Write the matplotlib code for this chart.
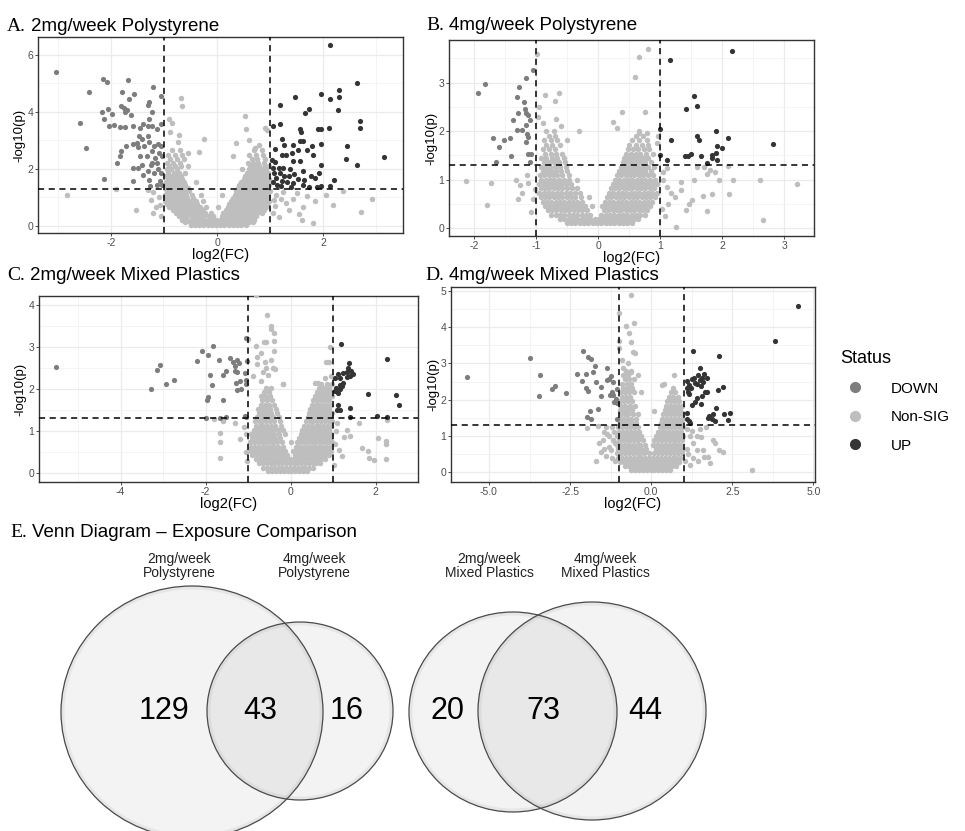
import numpy as np
import matplotlib
matplotlib.use("Agg")
import matplotlib.pyplot as plt
from matplotlib.lines import Line2D
from matplotlib.patches import Ellipse

plt.rcParams['font.family'] = ['Liberation Sans', 'DejaVu Sans']
plt.rcParams['axes.unicode_minus'] = False

# ---------------- data ----------------
STATUS = ["DOWN", "Non-SIG", "UP"]
STATUS_COLORS = {"DOWN": "#7d7d7d", "Non-SIG": "#bebebe", "UP": "#343434"}
FC_CUT = 1.0
P_CUT = 0.05

# A. 2mg/week Polystyrene
a_down = [(-3.04, 5.4), (-2.58, 3.6), (-2.48, 2.74), (-2.41, 4.7), (-2.16, 5.15), (-2.08, 5.04),
          (-2.17, 4.0), (-2.06, 4.09), (-2.14, 3.76), (-1.98, 3.92), (-2.04, 3.5), (-1.94, 3.53),
          (-2.14, 1.66), (-1.79, 4.7), (-1.69, 5.13), (-1.56, 4.62), (-1.66, 4.47), (-1.81, 4.21),
          (-1.76, 4.14), (-1.74, 4.0), (-1.7, 4.08), (-1.62, 3.88), (-1.59, 3.51), (-1.73, 3.48),
          (-1.83, 3.48), (-1.84, 2.45), (-1.88, 2.21), (-1.81, 2.62), (-1.72, 2.8), (-1.59, 2.86),
          (-1.51, 2.92), (-1.47, 3.15), (-1.45, 3.45), (-1.39, 3.56), (-1.31, 3.51), (-1.29, 3.74),
          (-1.31, 4.24), (-1.29, 4.35), (-1.21, 4.89), (-1.22, 4.0), (-1.05, 4.56), (-1.06, 3.56),
          (-1.14, 3.39), (-1.23, 3.51), (-1.31, 3.15), (-1.42, 3.04), (-1.5, 2.76), (-1.45, 2.45),
          (-1.41, 2.15), (-1.33, 2.45), (-1.23, 2.62), (-1.19, 2.8), (-1.12, 2.86), (-1.06, 2.8),
          (-1.09, 2.56), (-1.18, 2.39), (-1.25, 2.15), (-1.31, 1.92), (-1.39, 1.8), (-1.59, 1.56),
          (-1.29, 1.62), (-1.19, 1.86), (-1.11, 1.98), (-1.08, 1.56), (-1.05, 1.86), (-1.03, 1.45),
          (-1.14, 1.45), (-1.26, 1.41), (-1.22, 2.21), (-1.13, 2.21), (-1.04, 2.45), (-1.5, 2.04),
          (-1.59, 2.04), (-1.38, 2.8), (-1.28, 2.94)]
a_up = [(2.13, 6.35), (2.64, 5.0), (2.3, 4.78), (2.3, 4.51), (1.97, 4.62), (2.14, 4.45), (1.47, 4.53),
        (1.18, 4.25), (1.74, 4.09), (1.66, 3.95), (2.28, 4.06), (2.69, 3.68), (2.69, 3.45), (2.11, 3.45),
        (1.96, 3.41), (1.91, 3.39), (1.56, 3.41), (1.59, 3.29), (1.05, 3.51), (1.18, 3.56), (1.22, 3.06),
        (1.26, 2.84), (1.44, 2.84), (1.56, 2.98), (1.63, 2.98), (1.8, 2.82), (1.97, 2.89), (2.46, 2.8),
        (3.16, 2.42), (2.44, 2.33), (2.64, 2.13), (1.97, 2.12), (1.81, 2.48), (1.69, 2.66), (1.52, 2.68),
        (1.41, 2.56), (1.31, 2.48), (1.22, 2.48), (1.09, 2.71), (1.03, 2.31), (1.09, 2.25), (1.05, 2.04),
        (1.16, 2.04), (1.25, 2.04), (1.38, 1.98), (1.44, 2.27), (1.56, 2.27), (1.63, 1.94), (1.46, 1.82),
        (1.36, 1.74), (1.26, 1.74), (1.18, 1.86), (1.07, 1.86), (1.11, 1.68), (1.22, 1.56), (1.32, 1.53),
        (1.44, 1.51), (1.53, 1.65), (1.64, 1.62), (1.78, 1.74), (1.93, 1.84), (2.21, 1.62), (2.13, 1.41),
        (1.97, 1.39), (1.89, 1.36), (1.74, 1.35), (1.63, 1.45), (1.13, 1.45), (1.06, 1.53), (1.21, 1.39),
        (1.39, 1.36), (1.84, 1.68)]
a_ns_rows = [
    (0.03, [-0.5, -0.42, -0.34, -0.26, -0.18, -0.1, -0.02, 0.06, 0.14, 0.22, 0.3, 0.38, 0.46, 0.54]),
    (0.12, [-0.6, -0.52, -0.44, -0.36, -0.28, -0.2, -0.12, -0.04, 0.04, 0.12, 0.2, 0.28, 0.36, 0.44, 0.52, 0.6, 0.68]),
    (0.22, [-0.66, -0.58, -0.5, -0.42, -0.34, -0.26, -0.18, -0.1, -0.02, 0.06, 0.14, 0.22, 0.3, 0.38, 0.46, 0.54,
            0.62, 0.7]),
    (0.33, [-0.72, -0.64, -0.56, -0.48, -0.4, -0.32, -0.24, -0.16, -0.08, 0.1, 0.18, 0.26, 0.34, 0.42, 0.5, 0.58,
            0.66, 0.74]),
    (0.44, [-0.78, -0.7, -0.62, -0.54, -0.46, -0.38, -0.3, -0.22, -0.12, 0.12, 0.2, 0.28, 0.36, 0.44, 0.52, 0.6,
            0.68, 0.76, 0.84]),
    (0.55, [-0.84, -0.76, -0.68, -0.6, -0.52, -0.44, -0.36, -0.27, 0.16, 0.24, 0.32, 0.4, 0.48, 0.56, 0.64, 0.72,
            0.8, 0.88]),
    (0.66, [-0.9, -0.82, -0.74, -0.66, -0.58, -0.5, -0.42, -0.33, -0.2, 0.02, 0.2, 0.28, 0.36, 0.44, 0.52, 0.6,
            0.68, 0.76, 0.84, 0.92]),
    (0.77, [-0.95, -0.87, -0.79, -0.71, -0.63, -0.55, -0.47, -0.38, 0.23, 0.31, 0.39, 0.47, 0.55, 0.63, 0.71,
            0.79, 0.87, 0.95]),
    (0.88, [-0.98, -0.9, -0.82, -0.74, -0.66, -0.58, -0.5, -0.4, -0.26, 0.26, 0.34, 0.42, 0.5, 0.58, 0.66, 0.74,
            0.82, 0.9, 0.98]),
    (0.99, [-0.96, -0.88, -0.8, -0.72, -0.64, -0.56, -0.46, 0.3, 0.38, 0.46, 0.54, 0.62, 0.7, 0.78, 0.86, 0.94]),
    (1.1, [-0.98, -0.9, -0.82, -0.74, -0.66, -0.58, -0.48, -0.3, 0.1, 0.33, 0.41, 0.49, 0.57, 0.65, 0.73, 0.81,
           0.89, 0.97]),
    (1.21, [-0.95, -0.87, -0.79, -0.71, -0.63, -0.53, 0.36, 0.44, 0.52, 0.6, 0.68, 0.76, 0.84, 0.92, 1.0]),
    (1.32, [-0.97, -0.89, -0.81, -0.73, -0.65, -0.55, 0.39, 0.47, 0.55, 0.63, 0.71, 0.79, 0.87, 0.95]),
    (1.43, [-0.94, -0.86, -0.78, -0.7, -0.6, 0.42, 0.5, 0.58, 0.66, 0.74, 0.82, 0.9, 0.98]),
    (1.54, [-0.97, -0.89, -0.81, -0.72, -0.62, -0.4, 0.46, 0.54, 0.62, 0.7, 0.78, 0.86, 0.94]),
    (1.65, [-0.93, -0.85, -0.76, -0.66, 0.5, 0.58, 0.66, 0.74, 0.82, 0.9, 0.98]),
    (1.76, [-0.96, -0.87, -0.78, -0.68, 0.53, 0.61, 0.69, 0.77, 0.85, 0.93]),
    (1.87, [-0.92, -0.82, -0.72, -0.6, 0.56, 0.64, 0.72, 0.8, 0.88, 0.96]),
    (1.98, [-0.95, -0.86, -0.75, 0.48, 0.6, 0.68, 0.76, 0.84, 0.92]),
    (2.1, [-0.9, -0.8, -0.68, -0.55, 0.62, 0.7, 0.8, 0.9, 0.98]),
    (2.22, [-0.94, -0.83, -0.7, 0.58, 0.68, 0.78, 0.88]),
    (2.35, [-0.88, -0.76, -0.62, 0.66, 0.76, 0.9]),
    (2.5, [-0.92, -0.8, -0.66, 0.6, 0.74, 0.86]),
    (2.65, [-0.85, -0.7, 0.7, 0.84]),
]
a_ns_extra = [(-0.69, 4.5), (-0.66, 4.2), (-0.9, 3.76), (-0.85, 3.6), (-0.88, 3.3), (-0.72, 3.2), (-0.74, 2.95),
              (-0.25, 3.06), (0.53, 3.84), (0.91, 3.45), (0.95, 3.35), (0.55, 3.4), (0.6, 3.0), (0.8, 2.85),
              (0.72, 2.72), (0.36, 2.9), (-0.35, 2.6), (-0.55, 2.55), (0.3, 2.45), (-1.53, 0.54), (-1.91, 1.29),
              (-2.84, 1.09), (-1.25, 0.9), (-1.15, 0.65), (-1.1, 1.0), (-1.2, 1.2), (2.38, 1.21), (2.93, 0.94),
              (2.72, 0.47), (2.19, 0.74), (1.84, 0.86), (1.63, 0.68), (1.61, 0.21), (1.81, 0.09), (2.06, 1.09),
              (1.44, 0.94), (1.31, 0.8), (1.2, 0.95), (1.12, 1.1), (1.25, 1.2), (1.5, 1.15), (1.7, 1.05),
              (1.1, 0.7), (1.35, 0.55), (1.55, 0.4), (-1.3, 1.25), (-1.2, 0.45), (1.05, 0.45), (1.08, 0.9),
              (1.16, 0.3), (-1.05, 0.35), (-1.08, 0.75)]

# B. 4mg/week Polystyrene
b_down = [(-1.95, 2.79), (-1.83, 2.97), (-1.7, 1.87), (-1.61, 1.68), (-1.65, 1.36), (-1.53, 1.81), (-1.42, 1.85),
          (-1.41, 1.48), (-1.37, 2.24), (-1.32, 2.7), (-1.28, 2.92), (-1.29, 2.37), (-1.32, 2.02), (-1.24, 2.02),
          (-1.2, 2.6), (-1.17, 3.09), (-1.18, 2.45), (-1.16, 2.37), (-1.13, 2.33), (-1.17, 2.12), (-1.15, 1.95),
          (-1.17, 1.78), (-1.13, 1.89), (-1.14, 1.53), (-1.08, 1.53), (-1.1, 1.37), (-1.1, 2.23), (-1.05, 3.27)]
b_up = [(2.15, 3.66), (1.15, 3.47), (1.54, 2.73), (1.42, 2.46), (1.6, 2.52), (1.0, 2.04), (1.17, 1.82), (1.6, 1.91),
        (1.63, 1.81), (1.9, 2.0), (2.09, 1.87), (1.92, 1.7), (1.99, 1.65), (2.82, 1.74), (1.0, 1.51), (1.1, 1.41),
        (1.4, 1.48), (1.45, 1.48), (1.49, 1.53), (1.65, 1.49), (1.83, 1.51), (1.84, 1.44), (1.9, 1.56),
        (1.91, 1.41), (1.75, 1.34)]
b_ns_rows = [
    (0.1, [-0.5, -0.44, -0.37, -0.3, -0.23, -0.16, -0.09, -0.02, 0.05, 0.12, 0.19, 0.26, 0.33, 0.4, 0.47, 0.54]),
    (0.19, [-0.62, -0.55, -0.48, -0.41, -0.34, -0.27, -0.2, -0.13, -0.06, 0.01, 0.08, 0.15, 0.22, 0.29, 0.36,
            0.43, 0.5, 0.57, 0.64]),
    (0.28, [-0.76, -0.69, -0.62, -0.55, -0.48, -0.41, -0.34, -0.27, -0.2, -0.13, 0.05, 0.12, 0.19, 0.26, 0.33,
            0.4, 0.47, 0.54, 0.61, 0.68, 0.75]),
    (0.37, [-0.82, -0.75, -0.68, -0.61, -0.54, -0.47, -0.4, -0.33, -0.26, -0.18, 0.09, 0.16, 0.23, 0.3, 0.37,
            0.44, 0.51, 0.58, 0.65, 0.72, 0.79]),
    (0.46, [-0.86, -0.79, -0.72, -0.65, -0.58, -0.51, -0.44, -0.37, -0.3, -0.22, -0.1, 0.06, 0.13, 0.2, 0.27,
            0.34, 0.41, 0.48, 0.55, 0.62, 0.69, 0.76, 0.83]),
    (0.55, [-0.9, -0.83, -0.76, -0.69, -0.62, -0.55, -0.48, -0.41, -0.34, -0.26, 0.1, 0.17, 0.24, 0.31, 0.38,
            0.45, 0.52, 0.59, 0.66, 0.73, 0.8, 0.87]),
    (0.64, [-0.93, -0.86, -0.79, -0.72, -0.65, -0.58, -0.51, -0.44, -0.37, -0.28, -0.15, 0.14, 0.21, 0.28, 0.35,
            0.42, 0.49, 0.56, 0.63, 0.7, 0.77, 0.84, 0.91]),
    (0.73, [-0.95, -0.88, -0.81, -0.74, -0.67, -0.6, -0.53, -0.46, -0.38, -0.3, 0.17, 0.24, 0.31, 0.38, 0.45,
            0.52, 0.59, 0.66, 0.73, 0.8, 0.87, 0.94]),
    (0.82, [-0.93, -0.86, -0.79, -0.72, -0.65, -0.58, -0.51, -0.43, -0.34, 0.2, 0.27, 0.34, 0.41, 0.48, 0.55,
            0.62, 0.69, 0.76, 0.83, 0.9]),
    (0.91, [-0.95, -0.88, -0.81, -0.74, -0.67, -0.6, -0.52, -0.44, 0.23, 0.3, 0.37, 0.44, 0.51, 0.58, 0.65,
            0.72, 0.79, 0.86, 0.94]),
    (1.0, [-0.92, -0.85, -0.78, -0.71, -0.64, -0.56, -0.47, -0.35, 0.27, 0.34, 0.41, 0.48, 0.55, 0.62, 0.69,
           0.76, 0.84, 0.92]),
    (1.09, [-0.94, -0.87, -0.8, -0.73, -0.66, -0.58, -0.48, 0.3, 0.37, 0.44, 0.51, 0.58, 0.65, 0.72, 0.8, 0.88]),
    (1.18, [-0.9, -0.83, -0.76, -0.69, -0.6, -0.5, 0.33, 0.4, 0.47, 0.54, 0.61, 0.68, 0.76, 0.85]),
    (1.27, [-0.93, -0.86, -0.78, -0.7, -0.62, -0.52, 0.36, 0.43, 0.5, 0.57, 0.64, 0.72, 0.8, 0.9]),
    (1.36, [-0.88, -0.8, -0.72, -0.63, -0.54, 0.39, 0.46, 0.53, 0.6, 0.68, 0.76, 0.85]),
    (1.45, [-0.92, -0.84, -0.75, -0.66, -0.56, 0.42, 0.49, 0.56, 0.64, 0.72, 0.8]),
    (1.54, [-0.86, -0.77, -0.68, -0.58, 0.45, 0.52, 0.6, 0.68, 0.77, 0.88]),
    (1.63, [-0.9, -0.8, -0.7, 0.48, 0.56, 0.64, 0.73, 0.82]),
    (1.72, [-0.84, -0.74, -0.62, 0.5, 0.6, 0.7, 0.8]),
    (1.81, [-0.88, -0.77, -0.66, -0.5, 0.55, 0.66, 0.78]),
    (1.9, [-0.8, -0.7, 0.6, 0.72]),
    (2.0, [-0.85, -0.72, -0.32, 0.66]),
]
b_ns_extra = [(-0.99, 3.6), (0.8, 3.69), (0.65, 3.53), (0.59, 3.12), (0.38, 2.4), (0.75, 2.4), (0.24, 2.2),
              (0.3, 2.06), (-0.86, 2.75), (-0.63, 2.79), (-0.7, 2.62), (-0.68, 2.26), (-0.95, 2.5), (-0.89, 2.16),
              (-0.98, 2.3), (-0.6, 2.1), (0.65, 1.96), (0.78, 1.96), (0.94, 1.75), (0.97, 1.9), (-2.13, 0.97),
              (-1.8, 0.47), (-1.73, 0.93), (-1.33, 1.0), (-1.26, 0.89), (-1.24, 0.73), (-1.13, 0.93), (-1.09, 0.34),
              (-1.05, 0.6), (-1.02, 0.8), (-1.15, 1.1), (-1.3, 0.6), (3.2, 0.91), (2.65, 0.16), (2.61, 1.0),
              (2.18, 1.0), (2.11, 0.7), (1.94, 0.99), (1.88, 1.15), (1.75, 1.11), (1.75, 0.36), (1.83, 0.71),
              (1.69, 0.67), (1.51, 0.58), (1.41, 0.38), (1.47, 0.5), (1.54, 1.0), (1.33, 0.96), (1.34, 0.79),
              (1.24, 0.65), (1.26, 0.03), (1.17, 0.73), (1.1, 0.86), (2.1, 1.29), (1.59, 1.27), (1.05, 1.15),
              (1.1, 1.25), (1.02, 0.4), (1.08, 0.25), (1.12, 0.5), (1.7, 1.27), (1.8, 1.2), (1.04, 1.0)]

# C. 2mg/week Mixed Plastics
c_down = [(-5.52, 2.53), (-3.29, 1.99), (-3.15, 2.46), (-3.07, 2.58), (-2.92, 2.13), (-2.75, 2.22), (-2.2, 2.67),
          (-2.09, 2.91), (-1.82, 3.03), (-1.94, 2.81), (-1.9, 2.33), (-1.85, 2.09), (-1.96, 1.75), (-1.94, 1.81),
          (-1.6, 1.74), (-1.68, 2.7), (-1.6, 2.33), (-1.43, 2.74), (-1.35, 2.63), (-1.27, 2.69), (-1.31, 2.55),
          (-1.21, 2.61), (-1.51, 2.43), (-1.31, 2.43), (-1.25, 2.41), (-1.19, 2.19), (-1.05, 2.21), (-1.04, 2.11),
          (-1.05, 3.21), (-1.02, 2.67), (-1.07, 2.37), (-1.25, 1.97), (-1.17, 2.01), (-1.29, 2.15), (-1.52, 1.33),
          (-1.66, 1.31), (-1.99, 1.31), (-1.07, 1.35), (-1.04, 1.33)]
c_up = [(1.18, 3.08), (2.28, 2.71), (1.38, 2.61), (1.11, 2.35), (1.04, 2.27), (1.16, 2.26), (1.24, 2.37),
        (1.32, 2.41), (1.36, 2.49), (1.42, 2.43), (1.46, 2.35), (1.4, 2.31), (1.32, 2.29), (1.24, 2.15),
        (1.16, 2.09), (1.08, 2.03), (1.16, 1.99), (1.04, 1.95), (1.22, 2.07), (1.12, 1.91), (1.83, 1.89),
        (2.49, 1.86), (2.56, 1.63), (1.12, 1.62), (1.4, 1.54), (1.1, 1.5), (1.16, 1.49), (1.4, 1.33),
        (2.04, 1.35), (2.28, 1.33)]
c_ns_rows = [
    (0.04, [-0.52, -0.43, -0.34, -0.25, -0.16, -0.07, 0.02, 0.11, 0.2, 0.29, 0.38]),
    (0.13, [-0.64, -0.55, -0.46, -0.37, -0.28, -0.19, -0.1, -0.01, 0.08, 0.17, 0.26, 0.35, 0.44, 0.53]),
    (0.23, [-0.74, -0.65, -0.56, -0.47, -0.38, -0.29, -0.2, -0.11, -0.02, 0.07, 0.16, 0.25, 0.34, 0.43, 0.52,
            0.61, 0.7]),
    (0.33, [-0.82, -0.73, -0.64, -0.55, -0.46, -0.37, -0.28, -0.19, -0.1, -0.01, 0.08, 0.17, 0.26, 0.35, 0.44,
            0.53, 0.62, 0.71, 0.8]),
    (0.43, [-0.9, -0.81, -0.72, -0.63, -0.54, -0.45, -0.36, -0.27, -0.18, -0.09, 0.1, 0.19, 0.28, 0.37, 0.46,
            0.55, 0.64, 0.73, 0.82, 0.9]),
    (0.53, [-0.95, -0.86, -0.77, -0.68, -0.59, -0.5, -0.41, -0.32, -0.23, -0.12, 0.05, 0.15, 0.24, 0.33, 0.42,
            0.51, 0.6, 0.69, 0.78, 0.87, 0.95]),
    (0.63, [-0.92, -0.83, -0.74, -0.65, -0.56, -0.47, -0.38, -0.29, -0.18, 0.12, 0.21, 0.3, 0.39, 0.48, 0.57,
            0.66, 0.75, 0.84, 0.93]),
    (0.73, [-0.95, -0.86, -0.77, -0.68, -0.59, -0.5, -0.41, -0.32, -0.2, 0.0, 0.16, 0.25, 0.34, 0.43, 0.52,
            0.61, 0.7, 0.79, 0.88, 0.97]),
    (0.83, [-0.9, -0.81, -0.72, -0.63, -0.54, -0.45, -0.36, -0.25, 0.2, 0.29, 0.38, 0.47, 0.56, 0.65, 0.74,
            0.83, 0.92]),
    (0.93, [-0.92, -0.83, -0.74, -0.65, -0.56, -0.47, -0.38, -0.27, -0.12, 0.24, 0.33, 0.42, 0.51, 0.6, 0.69,
            0.78, 0.87, 0.96]),
    (1.03, [-0.86, -0.77, -0.68, -0.59, -0.5, -0.41, -0.3, -0.18, 0.28, 0.37, 0.46, 0.55, 0.64, 0.73, 0.82,
            0.91]),
    (1.13, [-0.82, -0.73, -0.64, -0.55, -0.46, -0.36, -0.22, 0.32, 0.41, 0.5, 0.59, 0.68, 0.77, 0.86, 0.95]),
    (1.23, [-0.84, -0.75, -0.66, -0.57, -0.48, -0.38, -0.25, 0.36, 0.45, 0.54, 0.63, 0.72, 0.81, 0.9, 0.98]),
    (1.33, [-0.78, -0.69, -0.6, -0.51, -0.41, -0.28, 0.4, 0.49, 0.58, 0.67, 0.76, 0.85, 0.94]),
    (1.43, [-0.74, -0.65, -0.56, -0.46, -0.32, 0.43, 0.52, 0.61, 0.7, 0.79, 0.88, 0.97]),
    (1.53, [-0.76, -0.67, -0.58, -0.48, -0.35, 0.46, 0.55, 0.64, 0.73, 0.82, 0.91]),
    (1.63, [-0.7, -0.61, -0.51, -0.38, 0.5, 0.59, 0.68, 0.77, 0.86, 0.95]),
    (1.73, [-0.66, -0.56, -0.44, 0.53, 0.62, 0.71, 0.8, 0.9]),
    (1.83, [-0.7, -0.6, -0.48, 0.57, 0.67, 0.77, 0.88, 0.97]),
    (1.93, [-0.62, -0.5, 0.62, 0.72, 0.84, 0.94]),
    (2.03, [-0.58, -0.45, 0.66, 0.78, 0.9]),
    (2.13, [-0.17, 0.72, 0.86, 0.97]),
]
c_ns_extra = [(-0.82, 4.24), (-0.56, 3.76), (-0.45, 3.5), (-0.47, 3.42), (-0.39, 3.32), (-1.0, 3.19), (-0.62, 3.11),
              (-0.57, 3.11), (-0.39, 3.13), (-0.82, 3.02), (-0.39, 2.91), (-0.69, 2.85), (-0.8, 2.77), (-0.6, 2.65),
              (-0.45, 2.68), (-0.8, 2.6), (-0.57, 2.5), (-0.42, 2.51), (-0.36, 2.47), (-0.65, 2.4), (-0.52, 2.33),
              (-0.88, 2.31), (-0.7, 2.2), (-0.17, 2.11), (0.93, 2.99), (0.83, 2.63), (0.91, 2.63), (0.57, 2.15),
              (0.65, 2.15), (0.8, 2.25), (0.95, 2.3), (-1.66, 0.96), (-1.65, 0.73), (-1.66, 0.36), (-1.04, 0.92),
              (-1.1, 1.1), (-1.2, 0.8), (-1.05, 0.5), (-1.02, 0.3), (-1.3, 1.2), (-1.6, 1.25), (-1.8, 1.29),
              (1.69, 0.6), (1.83, 0.52), (1.85, 0.37), (1.96, 0.32), (2.05, 0.84), (2.24, 0.76), (2.24, 0.69),
              (2.24, 0.34), (1.2, 0.4), (1.32, 1.02), (1.4, 0.88), (1.25, 0.85), (2.26, 1.27), (1.1, 1.2),
              (1.05, 0.7), (1.15, 0.55), (1.02, 0.2), (1.08, 1.0), (1.6, 1.2)]

# D. 4mg/week Mixed Plastics
d_down = [(-5.69, 2.64), (-3.73, 3.16), (-3.43, 2.68), (-3.45, 2.09), (-3.07, 2.3), (-2.95, 2.39), (-2.64, 2.18),
          (-2.3, 2.7), (-2.09, 3.35), (-2.02, 2.7), (-2.12, 2.52), (-2.02, 2.33), (-1.94, 2.24), (-1.99, 1.53),
          (-1.89, 1.69), (-1.84, 1.46), (-1.94, 3.19), (-1.84, 3.13), (-1.79, 2.76), (-1.71, 2.48), (-1.64, 1.75),
          (-1.72, 2.92), (-1.56, 2.36), (-1.55, 2.11), (-1.37, 2.87), (-1.35, 2.55), (-1.29, 2.57), (-1.23, 2.66),
          (-1.17, 2.5), (-1.22, 2.21), (-1.27, 2.13), (-1.17, 2.13), (-1.06, 2.3), (-1.14, 1.95), (-1.08, 2.02),
          (-1.04, 1.9), (-1.06, 1.47)]
d_up = [(4.52, 4.59), (3.83, 3.62), (1.3, 3.35), (2.1, 3.22), (1.1, 2.52), (1.16, 2.41), (1.1, 2.32), (1.12, 2.22),
        (1.22, 2.32), (1.17, 2.15), (1.25, 2.57), (1.32, 2.61), (1.35, 2.45), (1.42, 2.43), (1.49, 2.54),
        (1.45, 2.68), (1.51, 2.87), (1.54, 2.37), (1.58, 2.59), (1.6, 2.5), (1.63, 2.7), (1.71, 2.59),
        (1.66, 2.22), (1.58, 2.09), (1.41, 2.04), (1.34, 1.95), (1.25, 1.86), (1.54, 1.88), (1.71, 2.22),
        (2.05, 2.27), (2.21, 2.34), (1.1, 1.63), (1.1, 1.46), (1.16, 1.4), (1.21, 1.35), (1.76, 1.49),
        (1.79, 1.55), (1.87, 1.47), (1.92, 1.6), (1.97, 1.4), (2.0, 1.78), (2.23, 1.61), (2.43, 1.63),
        (2.38, 1.45)]
d_ns_rows = [
    (0.05, [-0.62, -0.5, -0.38, -0.26, -0.14, -0.02, 0.1, 0.22, 0.34, 0.46, 0.58]),
    (0.16, [-0.8, -0.68, -0.56, -0.44, -0.32, -0.2, -0.08, 0.04, 0.16, 0.28, 0.4, 0.52, 0.64, 0.76]),
    (0.28, [-0.95, -0.83, -0.71, -0.59, -0.47, -0.35, -0.23, -0.11, 0.01, 0.13, 0.25, 0.37, 0.49, 0.61, 0.73,
            0.85]),
    (0.4, [-1.02, -0.9, -0.78, -0.66, -0.54, -0.42, -0.3, -0.18, -0.06, 0.06, 0.18, 0.3, 0.42, 0.54, 0.66, 0.78,
           0.9]),
    (0.52, [-1.05, -0.93, -0.81, -0.69, -0.57, -0.45, -0.33, -0.21, -0.08, 0.1, 0.22, 0.34, 0.46, 0.58, 0.7,
            0.82, 0.94]),
    (0.64, [-1.02, -0.9, -0.78, -0.66, -0.54, -0.42, -0.3, -0.17, 0.14, 0.26, 0.38, 0.5, 0.62, 0.74, 0.86, 0.98]),
    (0.76, [-1.05, -0.93, -0.81, -0.69, -0.57, -0.45, -0.33, -0.2, 0.05, 0.18, 0.3, 0.42, 0.54, 0.66, 0.78, 0.9]),
    (0.88, [-1.0, -0.88, -0.76, -0.64, -0.52, -0.4, -0.26, 0.1, 0.22, 0.34, 0.46, 0.58, 0.7, 0.82, 0.94]),
    (1.0, [-1.04, -0.92, -0.8, -0.68, -0.56, -0.44, -0.3, 0.14, 0.26, 0.38, 0.5, 0.62, 0.74, 0.86, 0.98]),
    (1.12, [-0.98, -0.86, -0.74, -0.62, -0.5, -0.36, 0.2, 0.32, 0.44, 0.56, 0.68, 0.8, 0.92]),
    (1.24, [-1.02, -0.9, -0.78, -0.66, -0.54, -0.4, 0.26, 0.38, 0.5, 0.62, 0.74, 0.86, 0.98]),
    (1.36, [-0.96, -0.84, -0.72, -0.6, -0.46, 0.3, 0.42, 0.54, 0.66, 0.78, 0.9]),
    (1.48, [-0.98, -0.86, -0.74, -0.62, -0.48, 0.34, 0.46, 0.58, 0.7, 0.82, 0.94]),
    (1.6, [-0.94, -0.82, -0.7, -0.56, -0.4, 0.38, 0.5, 0.62, 0.74, 0.86, 0.98]),
    (1.72, [-0.96, -0.84, -0.72, -0.58, 0.42, 0.54, 0.66, 0.78, 0.9]),
    (1.84, [-0.92, -0.8, -0.66, -0.5, 0.46, 0.58, 0.7, 0.82, 0.94]),
    (1.96, [-0.96, -0.84, -0.72, -0.58, 0.5, 0.62, 0.74, 0.86]),
    (2.08, [-0.9, -0.78, -0.64, 0.55, 0.68, 0.82]),
    (2.2, [-0.94, -0.82, -0.68, -0.52, 0.6, 0.74]),
    (2.32, [-0.86, -0.72, -0.58, 0.66]),
    (2.44, [-0.9, -0.76, -0.62, 0.4]),
    (2.56, [-0.82, -0.68, -0.52]),
    (2.68, [-0.86, -0.7]),
    (2.8, [-0.78, -0.62]),
]
d_ns_extra = [(-0.62, 4.89), (-0.98, 4.4), (-0.79, 4.03), (-0.52, 4.11), (-0.68, 3.83), (-0.62, 3.58), (-0.98, 3.62),
              (-0.99, 3.44), (-0.55, 3.33), (-0.5, 3.28), (-0.88, 2.87), (-0.63, 2.76), (-0.4, 2.68), (0.71, 2.68),
              (0.32, 2.41), (-0.9, 3.1), (-0.7, 3.0), (-0.3, 2.2), (0.1, 1.7), (-1.7, 0.32), (-1.5, 0.89),
              (-1.45, 0.65), (-1.3, 0.7), (-1.35, 1.05), (-1.4, 1.25), (-1.99, 1.21), (-1.63, 1.28), (-1.2, 0.4),
              (-1.15, 1.1), (-1.1, 0.8), (3.1, 0.06), (1.76, 0.41), (1.63, 0.41), (1.97, 0.8), (2.09, 0.62),
              (1.54, 0.96), (1.4, 0.6), (1.3, 0.8), (1.2, 1.0), (1.15, 0.5), (1.1, 1.2), (1.05, 0.3), (1.5, 1.2),
              (1.45, 0.3), (2.2, 0.55), (1.7, 1.25), (-1.55, 0.55), (-1.4, 0.45), (-1.25, 0.6), (-1.18, 0.9),
              (-1.3, 1.0), (-1.45, 1.1), (-1.2, 1.25), (-1.1, 0.3), (-1.6, 0.8), (1.3, 0.4), (1.6, 0.6),
              (1.2, 0.2), (1.9, 0.9), (1.25, 1.15), (1.4, 1.0), (1.1, 0.65), (1.8, 0.25)]

# Venn counts
venn_ps_labels = ["2mg/week\nPolystyrene", "4mg/week\nPolystyrene"]
venn_ps_counts = [129, 43, 16]
venn_mp_labels = ["2mg/week\nMixed Plastics", "4mg/week\nMixed Plastics"]
venn_mp_counts = [20, 73, 44]

# ---------------- layout ----------------
W, H = 965, 831
fig = plt.figure(figsize=(W / 100, H / 100), dpi=100)


def px_axes(x0, y0, x1, y1):
    return fig.add_axes([x0 / W, 1 - y1 / H, (x1 - x0) / W, (y1 - y0) / H])


def ns_points(rows, extra):
    xs, ys = [], []
    for y, row in rows:
        xs += row
        ys += [y] * len(row)
    for x, y in extra:
        xs.append(x)
        ys.append(y)
    return np.array(xs), np.array(ys)


def panel_title(ax, x, y_base, letter, text):
    t = fig.text(x / W, 1 - y_base / H, letter, fontfamily='Liberation Serif', fontsize=14, va='baseline')
    ax.annotate(text, xy=(1, 0), xycoords=t, xytext=(4, 0), textcoords='offset points',
                va='bottom', ha='left', fontsize=13.5, annotation_clip=False)


def volcano(rect, down, up, ns, xlim, ylim, xticks, yticks, xminor, yminor, xticklabels=None):
    ax = px_axes(*rect)
    nx, ny = ns
    ax.scatter(nx, ny, s=15.5, c=STATUS_COLORS["Non-SIG"], linewidths=0, zorder=3)
    d = np.array(down)
    u = np.array(up)
    ax.scatter(d[:, 0], d[:, 1], s=14, c=STATUS_COLORS["DOWN"], linewidths=0, zorder=3)
    ax.scatter(u[:, 0], u[:, 1], s=14, c=STATUS_COLORS["UP"], linewidths=0, zorder=3)
    ax.axvline(-FC_CUT, color='black', ls=(0, (4, 3)), lw=1.1, zorder=4)
    ax.axvline(FC_CUT, color='black', ls=(0, (4, 3)), lw=1.1, zorder=4)
    ax.axhline(-np.log10(P_CUT), color='black', ls=(0, (4, 3)), lw=1.1, zorder=4)
    ax.set_xlim(*xlim)
    ax.set_ylim(*ylim)
    if xticklabels is None:
        ax.set_xticks(xticks)
    else:
        ax.set_xticks(xticks, xticklabels)
    ax.set_yticks(yticks)
    ax.set_xticks(xminor, minor=True)
    ax.set_yticks(yminor, minor=True)
    ax.grid(True, which='major', color='#ebebeb', lw=0.9, zorder=0)
    ax.grid(True, which='minor', color='#f2f2f2', lw=0.6, zorder=0)
    ax.set_axisbelow(True)
    ax.tick_params(which='major', labelsize=7.5, length=2.5, width=0.6, colors='#333333',
                   labelcolor='#4d4d4d', pad=1)
    ax.tick_params(which='minor', length=0)
    for sp in ax.spines.values():
        sp.set_color('#333333')
        sp.set_linewidth(1.0)
    ax.set_xlabel("log2(FC)", fontsize=10.5, labelpad=0)
    ax.set_ylabel("-log10(p)", fontsize=9.5, labelpad=1)
    return ax


ax_a = volcano((38, 37, 403, 233), a_down, a_up, ns_points(a_ns_rows, a_ns_extra),
               (-3.38, 3.51), (-0.25, 6.63), [-2, 0, 2], [0, 2, 4, 6], [-3, -1, 1, 3], [1, 3, 5])
ax_b = volcano((449, 40, 814, 236), b_down, b_up, ns_points(b_ns_rows, b_ns_extra),
               (-2.41, 3.48), (-0.16, 3.88), [-2, -1, 0, 1, 2, 3], [0, 1, 2, 3],
               [-1.5, -0.5, 0.5, 1.5, 2.5], [0.5, 1.5, 2.5, 3.5])
ax_c = volcano((39, 296, 418, 482), c_down, c_up, ns_points(c_ns_rows, c_ns_extra),
               (-5.92, 3.0), (-0.21, 4.21), [-4, -2, 0, 2], [0, 1, 2, 3, 4],
               [-5, -3, -1, 1, 3], [0.5, 1.5, 2.5, 3.5])
ax_d = volcano((451, 287, 815, 482), d_down, d_up, ns_points(d_ns_rows, d_ns_extra),
               (-6.17, 5.05), (-0.27, 5.11), [-5, -2.5, 0, 2.5, 5], [0, 1, 2, 3, 4, 5],
               [-3.75, -1.25, 1.25, 3.75], [0.5, 1.5, 2.5, 3.5, 4.5],
               xticklabels=["-5.0", "-2.5", "0.0", "2.5", "5.0"])

panel_title(ax_a, 7, 31, "A.", "2mg/week Polystyrene")
panel_title(ax_b, 426, 30, "B.", "4mg/week Polystyrene")
panel_title(ax_c, 7, 280, "C.", "2mg/week Mixed Plastics")
panel_title(ax_d, 425, 280, "D.", "4mg/week Mixed Plastics")

# legend
handles = [Line2D([], [], marker='o', ls='', color=STATUS_COLORS[s], markersize=7) for s in STATUS]
fig.legend(handles, STATUS, title="Status", loc='upper left', bbox_to_anchor=(840 / W, 1 - 350 / H),
           frameon=False, fontsize=11, title_fontsize=13, alignment='left', handletextpad=1.3,
           labelspacing=0.95, borderaxespad=0, borderpad=0)

# ---------------- Venn diagrams ----------------
ax_v = px_axes(0, 540, W, H)
ax_v.set_xlim(0, W)
ax_v.set_ylim(H, 540)
ax_v.axis('off')
panel_title(ax_v, 10, 537, "E.", "Venn Diagram \u2013 Exposure Comparison")

# circle geometry (pixels): centre x, centre y, radius x, radius y
venn_geom = [
    ((192, 712, 131, 126), (300, 711, 93, 89)),
    ((513, 712, 104, 100), (592, 711, 114, 109)),
]
venn_label_pos = [((179, 566), (314, 566)), ((489, 566), (605, 566))]
venn_count_pos = [((164, 711), (260, 711), (347, 711)), ((448, 711), (543, 711), (645, 711))]

for geom, labels, counts, lpos, cpos in zip(venn_geom, [venn_ps_labels, venn_mp_labels],
                                           [venn_ps_counts, venn_mp_counts], venn_label_pos, venn_count_pos):
    for cx, cy, rx, ry in geom:
        ax_v.add_patch(Ellipse((cx, cy), 2 * rx, 2 * ry, facecolor='#7a7a7a', alpha=0.085,
                               edgecolor='none', zorder=1))
        glow = Ellipse((cx, cy), 2 * rx, 2 * ry, facecolor='none', edgecolor='#8a8a8a', alpha=0.12, lw=5, zorder=2)
        ax_v.add_patch(glow)
        glow.set_clip_path(Ellipse((cx, cy), 2 * rx, 2 * ry, transform=ax_v.transData))
        ax_v.add_patch(Ellipse((cx, cy), 2 * rx, 2 * ry, facecolor='none', edgecolor='#4a4a4a', lw=0.9, zorder=3))
    for lab, (x, y) in zip(labels, lpos):
        ax_v.text(x, y, lab, ha='center', va='center', fontsize=10, linespacing=1.0, color='#222222')
    for n, (x, y) in zip(counts, cpos):
        ax_v.text(x, y, str(n), ha='center', va='center', fontsize=22, zorder=5)

fig.savefig("out.png", dpi=100)
